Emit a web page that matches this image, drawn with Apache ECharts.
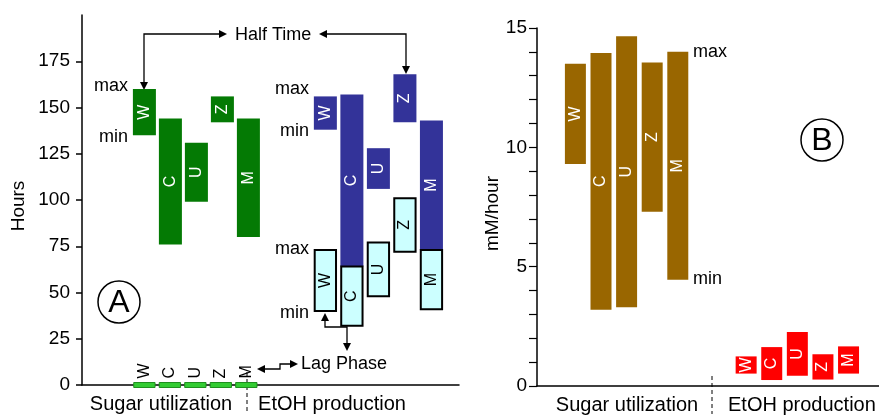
<!DOCTYPE html>
<html>
<head>
<meta charset="utf-8">
<script src="https://cdn.jsdelivr.net/npm/echarts@6/dist/echarts.min.js"></script>
<style>
    html, body { margin: 0; padding: 0; background: #fff; }
    #main { width: 879px; height: 415px; }
</style>
</head>
<body>
<div id="main"></div>
<script>
// strains, in the order they are drawn in every group
var strains = ['W', 'C', 'U', 'Z', 'M'];

// panel A : hours
var sugarHalfMin = [135, 76, 99, 142, 80];
var sugarHalfMax = [160, 144, 131, 156, 144];
var sugarLag = [0, 0, 0, 0, 0];
var etohHalfMin = [138, 64, 106, 142, 73];
var etohHalfMax = [156, 157, 128, 168, 143];
var etohLagMin = [40, 32, 48, 72, 41];
var etohLagMax = [73, 64, 77, 101, 73];
var hourTicks = [0, 25, 50, 75, 100, 125, 150, 175];

// panel B : mM/hour
var sugarRateMin = [9.3, 3.2, 3.3, 7.3, 4.45];
var sugarRateMax = [13.5, 13.95, 14.65, 13.55, 14.0];
var etohRateMin = [0.52, 0.25, 0.43, 0.27, 0.52];
var etohRateMax = [1.24, 1.63, 2.26, 1.33, 1.66];

var FONT = '"Liberation Sans", Arial, sans-serif';

function rangeData(mins, maxs) {
    return strains.map(function (s, i) {
        return [i, mins[i], maxs[i], s];
    });
}

// floating bar from min to max, label rotated inside (or above for flat bars)
function rangeSeries(grid, data, o) {
    return {
        type: 'custom',
        xAxisIndex: grid,
        yAxisIndex: grid,
        data: data,
        encode: { x: 0, y: [1, 2] },
        silent: true,
        renderItem: function (params, api) {
            var x = o.x0 + api.value(0) * o.step;
            var lo = api.coord([x, api.value(1)]);
            var hi = api.coord([x, api.value(2)]);
            var w = api.size([o.width, 0])[0];
            var top = hi[1], h = lo[1] - hi[1];
            if (o.minH && h < o.minH) {
                top = (lo[1] + hi[1]) / 2 - o.minH / 2;
                h = o.minH;
            }
            var label = o.above ? {
                type: 'text', x: lo[0], y: top - 4, rotation: Math.PI / 2,
                style: { text: api.value(3), font: o.font, fill: o.textColor, align: 'left', verticalAlign: 'middle' }
            } : {
                type: 'text', x: lo[0], y: top + h / 2, rotation: Math.PI / 2,
                style: { text: api.value(3), font: o.font, fill: o.textColor, align: 'center', verticalAlign: 'middle' }
            };
            return {
                type: 'group',
                children: [{
                    type: 'rect',
                    shape: { x: lo[0] - w / 2, y: top, width: w, height: h },
                    style: { fill: o.color, stroke: o.stroke || null, lineWidth: o.lineWidth || 0 }
                }, label]
            };
        }
    };
}

function text(str, x, y, align, size) {
    return {
        type: 'text', x: x, y: y, silent: true,
        style: { text: str, font: (size || 18) + 'px ' + FONT, fill: '#000', align: align, verticalAlign: 'middle' }
    };
}

function line(points, dash) {
    return {
        type: 'polyline', silent: true,
        shape: { points: points },
        style: { stroke: '#000', lineWidth: dash ? 1 : 1.3, fill: null, lineDash: dash ? [4, 3] : null }
    };
}

function head(tx, ty, dir) {
    var L = 8, H = 4, p;
    if (dir === 'right') p = [[tx, ty], [tx - L, ty - H], [tx - L, ty + H]];
    if (dir === 'left') p = [[tx, ty], [tx + L, ty - H], [tx + L, ty + H]];
    if (dir === 'down') p = [[tx, ty], [tx - H, ty - L], [tx + H, ty - L]];
    if (dir === 'up') p = [[tx, ty], [tx - H, ty + L], [tx + H, ty + L]];
    return { type: 'polygon', silent: true, shape: { points: p }, style: { fill: '#000' } };
}

function circleLabel(str, cx, cy) {
    return [{
        type: 'circle', silent: true,
        shape: { cx: cx, cy: cy, r: 21 },
        style: { fill: '#fff', stroke: '#000', lineWidth: 1.5 }
    }, text(str, cx, cy + 1, 'center', 32)];
}

var myChart = echarts.init(document.getElementById('main'));

var axisBlack = { show: true, lineStyle: { color: '#000', width: 1.5 } };

var option = {
    animation: false,
    grid: [
        { left: 82, top: 15, width: 377, height: 370 },
        { left: 537, top: 28, width: 342, height: 358 }
    ],
    xAxis: [
        { gridIndex: 0, type: 'value', min: 0, max: 14.5, axisLine: axisBlack,
          axisTick: { show: false }, axisLabel: { show: false }, splitLine: { show: false } },
        { gridIndex: 1, type: 'value', min: 0, max: 13.36, axisLine: axisBlack,
          axisTick: { show: false }, axisLabel: { show: false }, splitLine: { show: false } }
    ],
    yAxis: [
        {
            gridIndex: 0, type: 'value', min: 0, max: 200, interval: 25,
            name: 'Hours', nameLocation: 'middle', nameGap: 54, nameRotate: 90,
            nameTextStyle: { fontSize: 19, fontFamily: FONT, color: '#000', padding: [0, 12, 0, 0] },
            axisLine: axisBlack,
            axisTick: { show: true, length: 6, customValues: hourTicks, lineStyle: { color: '#000', width: 1.5 } },
            axisLabel: {
                customValues: hourTicks, fontSize: 19, fontFamily: FONT, color: '#000', margin: 12,
                formatter: function (v) { return v >= 200 ? '' : v; }
            },
            splitLine: { show: false }
        },
        {
            gridIndex: 1, type: 'value', min: 0, max: 15, interval: 1,
            name: 'mM/hour', nameLocation: 'middle', nameGap: 30, nameRotate: 90,
            nameTextStyle: { fontSize: 19, fontFamily: FONT, color: '#000', padding: [0, 13, 0, 0] },
            axisLine: axisBlack,
            axisTick: { show: true, length: 8, lineStyle: { color: '#000', width: 1.2 } },
            axisLabel: {
                fontSize: 19, fontFamily: FONT, color: '#000', margin: 10,
                formatter: function (v) { return v % 5 === 0 ? v : ''; }
            },
            splitLine: { show: false }
        }
    ],
    series: [
        rangeSeries(0, rangeData(sugarHalfMin, sugarHalfMax),
            { x0: 2.4, step: 1, width: 0.885, color: '#047a04', textColor: '#fff', font: '16px ' + FONT }),
        rangeSeries(0, rangeData(sugarLag, sugarLag),
            { x0: 2.4, step: 0.98, width: 0.82, minH: 5, above: true, color: '#33cc33', stroke: '#1f8f1f',
              lineWidth: 1, textColor: '#000', font: '16px ' + FONT }),
        rangeSeries(0, rangeData(etohHalfMin, etohHalfMax),
            { x0: 9.36, step: 1.02, width: 0.885, color: '#333399', textColor: '#fff', font: '16px ' + FONT }),
        rangeSeries(0, rangeData(etohLagMin, etohLagMax),
            { x0: 9.36, step: 1.02, width: 0.82, color: '#ccffff', stroke: '#000', lineWidth: 2,
              textColor: '#000', font: '16px ' + FONT }),
        rangeSeries(1, rangeData(sugarRateMin, sugarRateMax),
            { x0: 1.5, step: 1, width: 0.82, color: '#996600', textColor: '#fff', font: '16px ' + FONT }),
        rangeSeries(1, rangeData(etohRateMin, etohRateMax),
            { x0: 8.17, step: 1, width: 0.82, color: '#ff0000', textColor: '#fff', font: '16px ' + FONT })
    ],
    graphic: [].concat(
        // group captions and dividers
        text('Sugar utilization', 161, 404, 'center', 20),
        text('EtOH production', 332, 404, 'center', 20),
        text('Sugar utilization', 627, 405, 'center', 20),
        text('EtOH production', 728, 405, 'left', 20),
        line([[247, 372], [247, 414]], true),
        line([[712, 376], [712, 414]], true),
        // panel A notes
        circleLabel('A', 119, 302),
        text('max', 128, 86, 'right'),
        text('min', 128, 137, 'right'),
        text('max', 309, 89, 'right'),
        text('min', 309, 131, 'right'),
        text('max', 309, 249, 'right'),
        text('min', 309, 313, 'right'),
        text('Half Time', 235, 35, 'left'),
        line([[144, 84], [144, 34], [220, 34]]),
        head(227, 34, 'right'),
        head(144, 90, 'down'),
        line([[326, 34], [406, 34], [406, 67]]),
        head(319, 34, 'left'),
        head(406, 74, 'down'),
        text('Lag Phase', 301, 364, 'left'),
        line([[263, 369], [280, 369], [280, 364], [291, 364]]),
        head(257, 369, 'left'),
        head(298, 364, 'right'),
        line([[325, 320], [325, 327], [347, 327], [347, 344]]),
        head(325, 313, 'up'),
        head(347, 351, 'down'),
        // panel B notes
        circleLabel('B', 822, 140),
        text('max', 693, 52, 'left'),
        text('min', 693, 279, 'left')
    )
};

myChart.setOption(option, true);
</script>
</body>
</html>
